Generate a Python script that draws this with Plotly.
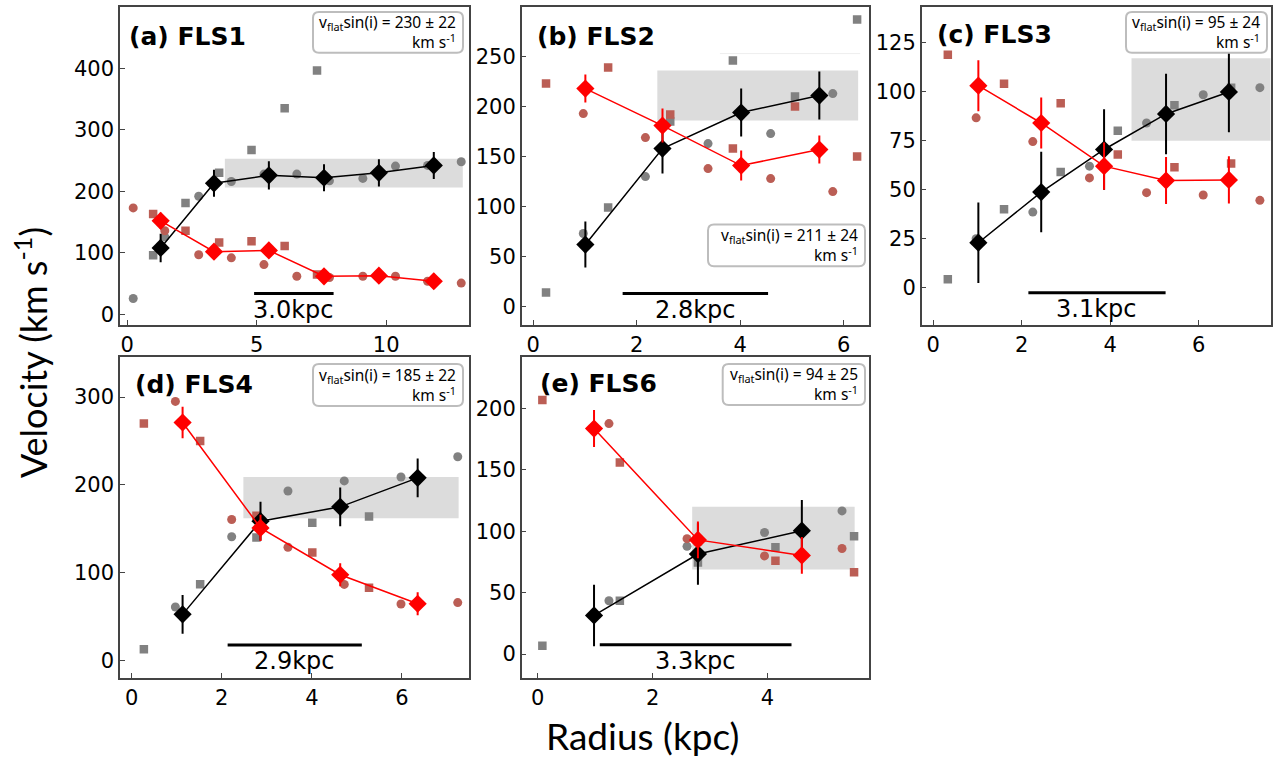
import plotly.graph_objects as go

# ---- data (radius in kpc, velocity in km/s) ----
# (a) FLS1
FLS1_R_SQ = [1.0, 2.25, 3.55, 4.8, 6.08, 7.33]
FLS1_GRAY_SQ = [96, 181, 230, 267, 335, 396]
FLS1_RED_SQ = [163, 136, 117, 119, 111, 65]
FLS1_R_CI = [0.23, 1.45, 2.76, 4.02, 5.28, 6.55, 7.81, 9.1, 10.36, 11.6, 12.9]
FLS1_GRAY_CI = [26, 126, 192, 216, 228, 228, 217, 221, 241, 242, 248]
FLS1_RED_CI = [173, 136, 97, 92, 81, 62, 60, 62, 62, 54, 51]
FLS1_R_BIN = [1.29, 3.35, 5.47, 7.6, 9.72, 11.84]
FLS1_BLACK = [108, 213, 226, 222, 230, 242]
FLS1_BLACK_ERR = [23, 22, 23, 22, 22, 22]
FLS1_RED = [152, 102, 104, 62, 63, 54]
FLS1_RED_ERR = [13, 12, 12, 12, 12, 12]

# (b) FLS2
FLS2_R_SQ = [0.25, 1.45, 2.65, 3.86, 5.06, 6.26]
FLS2_GRAY_SQ = [14, 99, 185, 246, 210, 287]
FLS2_RED_SQ = [223, 239, 192, 158, 200, 150]
FLS2_R_CI = [0.97, 2.17, 3.38, 4.59, 5.79]
FLS2_GRAY_CI = [73, 130, 163, 173, 213]
FLS2_RED_CI = [193, 169, 138, 128, 115]
FLS2_R_BIN = [1.01, 2.5, 4.02, 5.53]
FLS2_BLACK = [62, 158, 194, 211]
FLS2_BLACK_ERR = [23, 25, 24, 24]
FLS2_RED = [218, 181, 141, 157]
FLS2_RED_ERR = [14, 17, 15, 14]

# (c) FLS3
FLS3_R_SQ = [0.33, 1.6, 2.88, 4.17, 5.45, 6.73]
FLS3_GRAY_SQ = [4.4, 40, 59, 80, 93, 102]
FLS3_RED_SQ = [118.7, 104, 94, 68, 61.5, 63.4]
FLS3_R_CI = [0.97, 2.25, 3.53, 4.82, 6.1, 7.38]
FLS3_GRAY_CI = [25, 38.6, 62, 84, 98.4, 102]
FLS3_RED_CI = [86.6, 74.5, 56, 48.5, 47.3, 44.6]
FLS3_R_BIN = [1.02, 2.44, 3.86, 5.26, 6.68]
FLS3_BLACK = [23, 48.8, 70.5, 88.6, 99.8]
FLS3_BLACK_ERR = [20.5, 20.5, 20.5, 20.5, 20.5]
FLS3_RED = [103, 84, 62, 54.7, 55]
FLS3_RED_ERR = [13, 13, 12, 12, 12]

# (d) FLS4
FLS4_R_SQ = [0.27, 1.52, 2.77, 4.01, 5.27]
FLS4_GRAY_SQ = [13, 87, 140, 157, 164]
FLS4_RED_SQ = [270, 250, 165, 123, 83]
FLS4_R_CI = [0.97, 2.22, 3.47, 4.72, 5.98, 7.24]
FLS4_GRAY_CI = [61, 141, 193, 204.5, 209, 232]
FLS4_RED_CI = [295, 160.6, 129, 86.7, 64.4, 66]
FLS4_R_BIN = [1.13, 2.86, 4.63, 6.35]
FLS4_BLACK = [52.6, 158.7, 175, 208]
FLS4_BLACK_ERR = [22, 22, 22, 22]
FLS4_RED = [271, 151, 97.7, 64.7]
FLS4_RED_ERR = [18, 15, 13, 13]

# (e) FLS6
FLS6_R_SQ = [0.08, 1.43, 2.79, 4.14, 5.51]
FLS6_GRAY_SQ = [6.8, 43.5, 74.7, 87, 96]
FLS6_RED_SQ = [207, 156, 92, 76, 66.6]
FLS6_R_CI = [1.24, 2.6, 3.95, 5.3]
FLS6_GRAY_CI = [43.5, 87.8, 99, 116.6]
FLS6_RED_CI = [187.7, 94, 80, 86]
FLS6_R_BIN = [0.98, 2.79, 4.6]
FLS6_BLACK = [31.5, 81.5, 100.5]
FLS6_BLACK_ERR = [25, 25, 25]
FLS6_RED = [183.7, 93, 80.4]
FLS6_RED_ERR = [15, 15, 15]

LABELS = ["(a) FLS1", "(b) FLS2", "(c) FLS3", "(d) FLS4", "(e) FLS6"]
VFLAT = [230, 211, 95, 185, 94]
VFLAT_ERR = [22, 24, 24, 22, 25]
BAND_R = [(3.77, 12.96), (2.4, 6.28), (4.48, 7.7), (2.48, 7.26), (2.69, 5.52)]
BAND_V = [(206, 253), (186, 236), (75, 117), (162, 209), (69, 120)]
SCALE_KPC = ["3.0kpc", "2.8kpc", "3.1kpc", "2.9kpc", "3.3kpc"]

# ---- layout constants (pixels on the 1279x760 canvas) ----
W, H = 1279, 760
GRAY = "#818181"
BROWN = "#BB5E55"
FRAME = "#444444"
TICKF = dict(family="DejaVu Sans", size=21, color="black")

PANELS = [
    dict(px=(120, 469), py=(7, 326), xr=[-0.28, 13.2], yr=[-17.3, 499.3],
         xt=[0, 5, 10], yt=[0, 100, 200, 300, 400],
         box=(313, 463, 12, 53), lab=(127, 37), bar=(4.9, 7.97, 34)),
    dict(px=(521.7, 868.5), py=(7, 326), xr=[-0.22, 6.48], yr=[-18.6, 299.6],
         xt=[0, 2, 4, 6], yt=[0, 50, 100, 150, 200, 250],
         box=(708, 865, 225, 267), lab=(535, 37), bar=(1.73, 4.54, 13)),
    dict(px=(921.7, 1270.5), py=(7, 326), xr=[-0.26, 7.62], yr=[-19.0, 143.1],
         xt=[0, 2, 4, 6], yt=[0, 25, 50, 75, 100, 125],
         box=(1126, 1267, 12, 53), lab=(935, 35), bar=(2.15, 5.25, -2.5)),
    dict(px=(120, 469), py=(358, 679.5), xr=[-0.26, 7.49], yr=[-19.5, 345.5],
         xt=[0, 2, 4, 6], yt=[0, 100, 200, 300],
         box=(313, 463, 365, 407), lab=(133, 386), bar=(2.13, 5.11, 17.7)),
    dict(px=(521.7, 869), py=(358, 679.5), xr=[-0.28, 5.77], yr=[-19.2, 241.9],
         xt=[0, 2, 4], yt=[0, 50, 100, 150, 200],
         box=(722.7, 865, 365, 406), lab=(538, 385), bar=(1.08, 4.42, 7.6)),
]

DATA = [
    (FLS1_R_SQ, FLS1_GRAY_SQ, FLS1_RED_SQ, FLS1_R_CI, FLS1_GRAY_CI, FLS1_RED_CI,
     FLS1_R_BIN, FLS1_BLACK, FLS1_BLACK_ERR, FLS1_RED, FLS1_RED_ERR),
    (FLS2_R_SQ, FLS2_GRAY_SQ, FLS2_RED_SQ, FLS2_R_CI, FLS2_GRAY_CI, FLS2_RED_CI,
     FLS2_R_BIN, FLS2_BLACK, FLS2_BLACK_ERR, FLS2_RED, FLS2_RED_ERR),
    (FLS3_R_SQ, FLS3_GRAY_SQ, FLS3_RED_SQ, FLS3_R_CI, FLS3_GRAY_CI, FLS3_RED_CI,
     FLS3_R_BIN, FLS3_BLACK, FLS3_BLACK_ERR, FLS3_RED, FLS3_RED_ERR),
    (FLS4_R_SQ, FLS4_GRAY_SQ, FLS4_RED_SQ, FLS4_R_CI, FLS4_GRAY_CI, FLS4_RED_CI,
     FLS4_R_BIN, FLS4_BLACK, FLS4_BLACK_ERR, FLS4_RED, FLS4_RED_ERR),
    (FLS6_R_SQ, FLS6_GRAY_SQ, FLS6_RED_SQ, FLS6_R_CI, FLS6_GRAY_CI, FLS6_RED_CI,
     FLS6_R_BIN, FLS6_BLACK, FLS6_BLACK_ERR, FLS6_RED, FLS6_RED_ERR),
]


def px2x(x):
    return x / W


def px2y(y):
    return 1 - y / H


def rounded_box(x0, x1, y0, y1, r=6):
    """SVG path of a rounded rectangle, pixel box -> paper coords."""
    X = lambda v: f"{px2x(v):.5f}"
    Y = lambda v: f"{px2y(v):.5f}"
    return (
        f"M {X(x0 + r)},{Y(y0)} L {X(x1 - r)},{Y(y0)} Q {X(x1)},{Y(y0)} {X(x1)},{Y(y0 + r)} "
        f"L {X(x1)},{Y(y1 - r)} Q {X(x1)},{Y(y1)} {X(x1 - r)},{Y(y1)} "
        f"L {X(x0 + r)},{Y(y1)} Q {X(x0)},{Y(y1)} {X(x0)},{Y(y1 - r)} "
        f"L {X(x0)},{Y(y0 + r)} Q {X(x0)},{Y(y0)} {X(x0 + r)},{Y(y0)} Z"
    )


fig = go.Figure()
shapes, annots = [], []

for i, (p, d) in enumerate(zip(PANELS, DATA)):
    n = "" if i == 0 else str(i + 1)
    xa, ya = "x" + n, "y" + n
    r_sq, g_sq, rd_sq, r_ci, g_ci, rd_ci, r_bin, blk, blk_e, red, red_e = d

    fig.layout["xaxis" + n] = dict(
        domain=[px2x(p["px"][0]), px2x(p["px"][1])], anchor=ya, range=p["xr"],
        tickvals=p["xt"], ticks="inside", ticklen=5, tickwidth=1.3, tickcolor=FRAME,
        showline=True, linecolor=FRAME, linewidth=1.5, mirror=True,
        showgrid=False, zeroline=False, tickfont=TICKF,
    )
    fig.layout["yaxis" + n] = dict(
        domain=[px2y(p["py"][1]), px2y(p["py"][0])], anchor=xa, range=p["yr"],
        tickvals=p["yt"], ticks="inside", ticklen=5, tickwidth=1.3, tickcolor=FRAME,
        showline=True, linecolor=FRAME, linewidth=1.5, mirror=True,
        showgrid=False, zeroline=False, tickfont=TICKF,
    )

    # flat-velocity band
    shapes.append(dict(type="rect", xref=xa, yref=ya, layer="below",
                       x0=BAND_R[i][0], x1=BAND_R[i][1], y0=BAND_V[i][0], y1=BAND_V[i][1],
                       fillcolor="#DCDCDC", line_width=0))

    common = dict(xaxis=xa, yaxis=ya, showlegend=False, hoverinfo="x+y")
    fig.add_trace(go.Scatter(x=r_sq, y=g_sq, mode="markers",
                             marker=dict(symbol="square", size=8.5, color=GRAY), **common))
    fig.add_trace(go.Scatter(x=r_ci, y=g_ci, mode="markers",
                             marker=dict(symbol="circle", size=9, color=GRAY), **common))
    fig.add_trace(go.Scatter(x=r_sq, y=rd_sq, mode="markers",
                             marker=dict(symbol="square", size=8.5, color=BROWN), **common))
    fig.add_trace(go.Scatter(x=r_ci, y=rd_ci, mode="markers",
                             marker=dict(symbol="circle", size=9, color=BROWN), **common))
    fig.add_trace(go.Scatter(x=r_bin, y=blk, mode="lines+markers",
                             line=dict(color="black", width=1.5),
                             marker=dict(symbol="diamond", size=14, color="black"),
                             error_y=dict(type="data", array=blk_e, color="black",
                                          thickness=2, width=0), **common))
    fig.add_trace(go.Scatter(x=r_bin, y=red, mode="lines+markers",
                             line=dict(color="#FF0000", width=1.5),
                             marker=dict(symbol="diamond", size=14, color="#FF0000"),
                             error_y=dict(type="data", array=red_e, color="#FF0000",
                                          thickness=2, width=0), **common))

    # scale bar
    bx0, bx1, by = p["bar"]
    shapes.append(dict(type="line", xref=xa, yref=ya, x0=bx0, x1=bx1, y0=by, y1=by,
                       line=dict(color="black", width=3)))
    annots.append(dict(xref=xa, yref=ya, x=(bx0 + bx1) / 2, y=by, yshift=-16,
                       text=SCALE_KPC[i], showarrow=False, yanchor="middle",
                       font=dict(family="DejaVu Sans", size=24, color="black")))

    # panel label
    annots.append(dict(xref="paper", yref="paper", x=px2x(p["lab"][0]), y=px2y(p["lab"][1]),
                       xanchor="left", yanchor="middle", text="<b>" + LABELS[i] + "</b>",
                       showarrow=False, font=dict(family="DejaVu Sans", size=25, color="black")))

    # v_flat box
    x0, x1, y0, y1 = p["box"]
    shapes.append(dict(type="path", xref="paper", yref="paper", path=rounded_box(x0, x1, y0, y1),
                       fillcolor="white", line=dict(color="#BDBDBD", width=2)))
    annots.append(dict(xref="paper", yref="paper", x=px2x(x1 - 5), y=px2y((y0 + y1) / 2),
                       xanchor="right", yanchor="middle", align="right", showarrow=False,
                       text=f"v<sub>flat</sub>sin(i) = {VFLAT[i]} ± {VFLAT_ERR[i]}<br>km s<sup>-1</sup>",
                       font=dict(family="Noto Sans", size=15.5, color="black")))

# faint stray line near top of panel (b)
shapes.append(dict(type="line", xref="x2", yref="y2", x0=3.61, x1=6.32, y0=253, y1=253,
                   line=dict(color="#EEEEEE", width=1)))

annots.append(dict(xref="paper", yref="paper", x=px2x(642), y=px2y(737), text="Radius (kpc)",
                   showarrow=False, xanchor="center", yanchor="middle",
                   font=dict(family="Lato", size=37, color="black")))
annots.append(dict(xref="paper", yref="paper", x=px2x(31), y=px2y(354),
                   text="Velocity (km s<sup>-1</sup>)", textangle=-90, showarrow=False,
                   xanchor="center", yanchor="middle",
                   font=dict(family="Lato", size=36, color="black")))

fig.update_layout(
    width=W, height=H, margin=dict(l=0, r=0, t=0, b=0),
    paper_bgcolor="white", plot_bgcolor="white",
    shapes=shapes, annotations=annots,
)

# drop the default page margin so the figure sits at the window's top-left corner
fig.write_html("out.html", config={"displayModeBar": False},
               post_script="document.body.style.margin='0';")
